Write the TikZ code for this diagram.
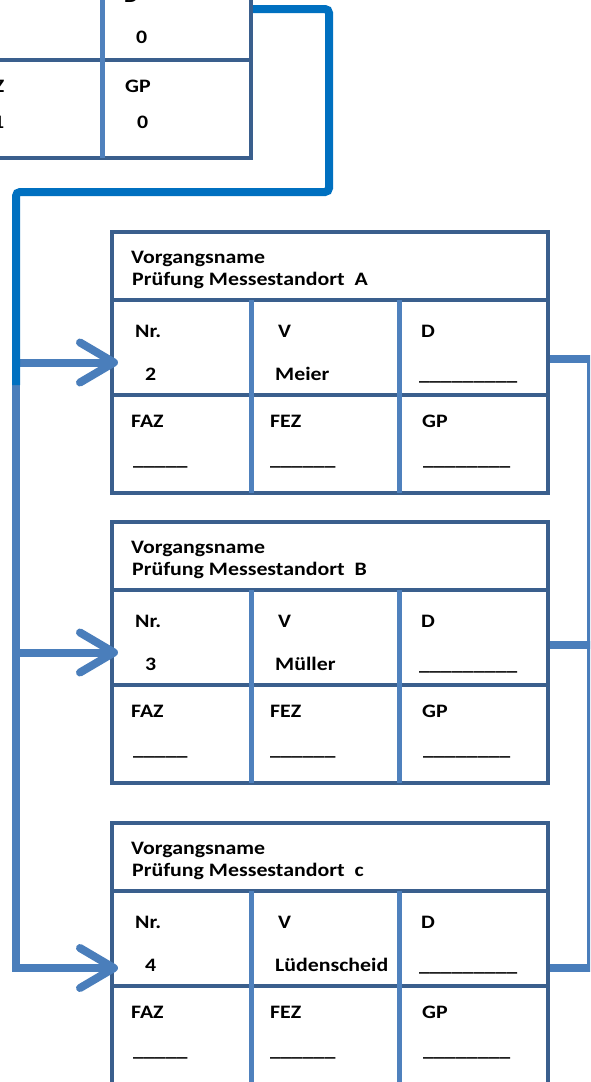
\documentclass[tikz,border=0pt]{standalone}
\usepackage{fontspec}
\setmainfont{Carlito}[FakeStretch=1.15]
\usetikzlibrary{arrows.meta}
\definecolor{rand}{HTML}{3A5F8D}
\definecolor{teiler}{HTML}{4F81BD}
\definecolor{pfeil}{HTML}{4A7EBB}
\definecolor{start}{HTML}{0070C0}
\begin{document}
\begin{tikzpicture}[x=1pt,y=-1pt,
  box/.style={draw=rand,line width=4pt,minimum width=436pt,minimum height=261pt,inner sep=0pt,anchor=north west},
  rule/.style={draw=rand,line width=4pt},
  divider/.style={draw=teiler,line width=5pt},
  lbl/.style={anchor=base west,inner sep=0pt,font=\fontsize{19}{22}\selectfont\bfseries},
  link/.style={draw=pfeil,line width=8pt},
  lead/.style={draw=start,line width=8pt,rounded corners=4pt},
  pfeilspitze/.style={-{Straight Barb[length=34pt,width=40pt,round]}}]
\def\vorgang#1#2#3#4{%
  \node[box] (#1) at (#2,#3) {};
  \draw[rule] ([yshift=-70pt]#1.north west) -- ([yshift=-70pt]#1.north east);
  \draw[rule] ([yshift=-165pt]#1.north west) -- ([yshift=-165pt]#1.north east);
  \draw[divider] ([xshift=141pt,yshift=-70pt]#1.north west) -- ([xshift=141pt,yshift=2pt]#1.south west);
  \draw[divider] ([xshift=289pt,yshift=-70pt]#1.north west) -- ([xshift=289pt,yshift=2pt]#1.south west);
  \node[lbl] (#1-kopf) at ([xshift=21pt,yshift=-33pt]#1.north west) {Vorgangsname};
  \node[lbl] (#1-titel) at ([xshift=22pt,yshift=-55pt]#1.north west) {#4};
  \node[lbl] (#1-nr) at ([xshift=25pt,yshift=-107pt]#1.north west) {Nr.};
  \node[lbl] (#1-v) at ([xshift=168pt,yshift=-107pt]#1.north west) {V};
  \node[lbl] (#1-d) at ([xshift=311pt,yshift=-107pt]#1.north west) {D};
  \node[lbl] (#1-faz) at ([xshift=21pt,yshift=-197pt]#1.north west) {FAZ};
  \node[lbl] (#1-fez) at ([xshift=160pt,yshift=-197pt]#1.north west) {FEZ};
  \node[lbl] (#1-gp) at ([xshift=312pt,yshift=-197pt]#1.north west) {GP};
}
\def\offen#1#2#3{%
  \node[lbl] (#1-nrw) at ([xshift=35pt,yshift=-150pt]#1.north west) {#2};
  \node[lbl] (#1-vw) at ([xshift=165pt,yshift=-150pt]#1.north west) {#3};
  \node[lbl] (#1-dw) at ([xshift=309pt,yshift=-150pt]#1.north west) {\_\_\_\_\_\_\_\_\_};
  \node[lbl] (#1-fazw) at ([xshift=23pt,yshift=-235pt]#1.north west) {\_\_\_\_\_};
  \node[lbl] (#1-fezw) at ([xshift=160pt,yshift=-235pt]#1.north west) {\_\_\_\_\_\_};
  \node[lbl] (#1-gpw) at ([xshift=313pt,yshift=-235pt]#1.north west) {\_\_\_\_\_\_\_\_};
}
\useasboundingbox (0,0) rectangle (590,1082);
\clip (0,0) rectangle (590,1082);

% Startvorgang (angeschnitten)
\vorgang{P}{-187}{-105}{}
\node[lbl] (P-dw) at (136,43) {0};
\node[lbl] (P-fezw) at (-7,128) {1};
\node[lbl] (P-gpw) at (137,128) {0};

% Vorgaenge
\vorgang{A}{110}{230}{Prüfung Messestandort\ \ A}
\offen{A}{2}{Meier}
\vorgang{B}{110}{520}{Prüfung Messestandort\ \ B}
\offen{B}{3}{Müller}
\vorgang{C}{110}{821}{Prüfung Messestandort\ \ c}
\offen{C}{4}{Lüdenscheid}

% Verbindungen
\coordinate (knick) at (16,385);
\coordinate (C-ein) at ([xshift=8pt,yshift=-14.5pt]C.west);
\draw[link,pfeilspitze] (knick |- A.west) -- ([xshift=8pt]A.west);
\draw[link,pfeilspitze] (knick |- B.west) -- ([xshift=8pt]B.west);
\draw[link,pfeilspitze] (knick) -- (knick |- C-ein) -- (C-ein);
\draw[link] ([yshift=3.5pt]A.east) -- ++(41,0) |- ([yshift=-14.5pt]C.east);
\draw[link] ([yshift=7.5pt]B.east) -- ++(41,0);
\draw[lead] ([yshift=18.5pt]P.east) -- ++(76,0) |- (16,192) -- (knick);
\end{tikzpicture}
\end{document}
